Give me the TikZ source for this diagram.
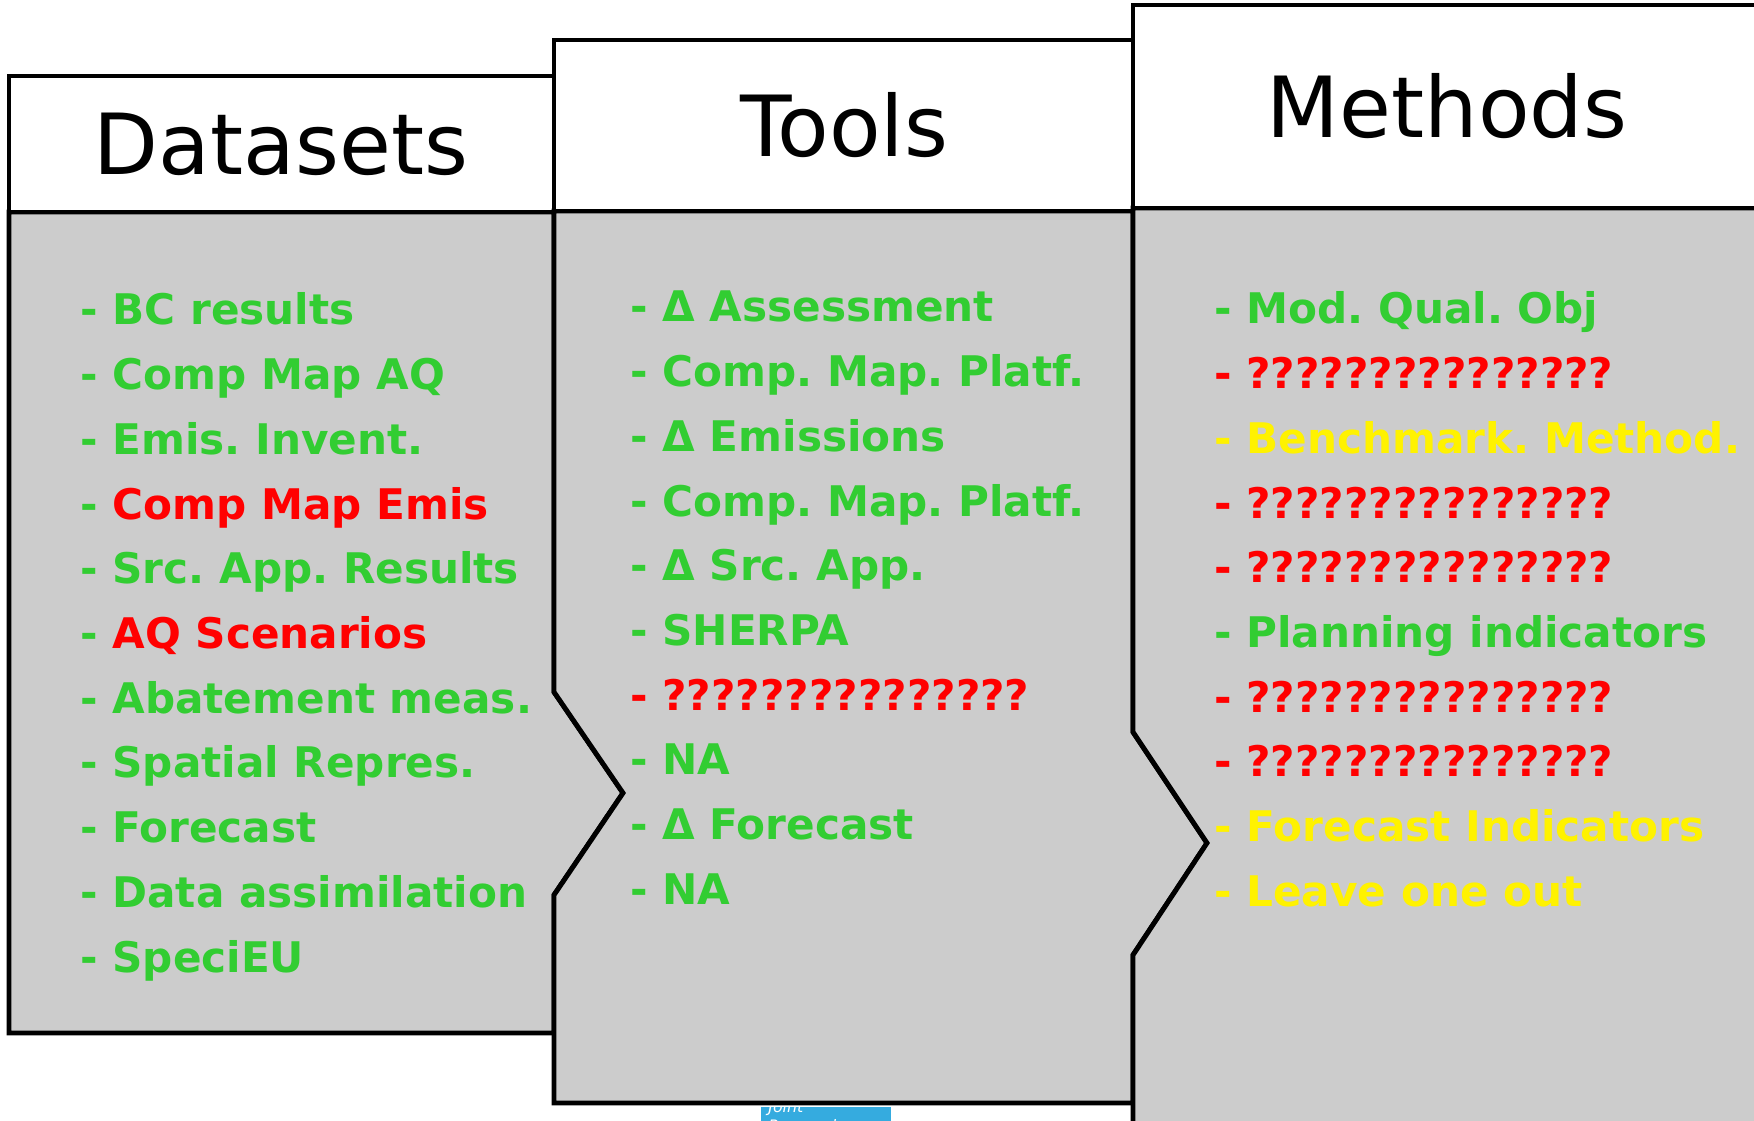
\documentclass[tikz,border=0pt]{standalone}
\usepackage{fontspec}
\setmainfont{DejaVu Sans}
\frenchspacing
\definecolor{okgreen}{RGB}{50,205,50}
\definecolor{panelgray}{RGB}{204,204,204}
\definecolor{logoblue}{RGB}{53,171,223}
\begin{document}
\begin{tikzpicture}[x=0.02cm, y=-0.02cm,
    frame/.style ={draw=black, line width=2.8pt, line join=miter},
    head/.style ={inner sep=0pt, font=\fontsize{48}{57}\selectfont},
    item/.style ={anchor=base west, inner sep=0pt, font=\fontsize{24}{29}\selectfont\bfseries}]
   \clip (0,0) rectangle (1754,1121);
   \useasboundingbox (0,0) rectangle (1754,1121);
   % datasets
   \draw[frame, fill=panelgray] (9,212) -- (554,212) -- (554,692) -- (623,793) -- (554,895)
      -- (554,1033) -- (9,1033) -- cycle;
   \draw[frame, fill=white] (9,76) rectangle (554,212);
   \node[head] (datasets) at (281,144) {Datasets};
   % tools
   \draw[frame, fill=panelgray] (554,211) -- (1133,211) -- (1133,732) -- (1207,843) -- (1133,955)
      -- (1133,1103) -- (554,1103) -- (554,895) -- (623,793) -- (554,692) -- cycle;
   \draw[frame, fill=white] (554,40) rectangle (1133,211);
   \node[head] (tools) at (844,125) {Tools};
   % methods
   \draw[frame, fill=panelgray] (1133,208) -- (1800,208) -- (1800,1200) -- (1133,1200)
      -- (1133,955) -- (1207,843) -- (1133,732) -- cycle;
   \draw[frame, fill=white] (1133,5) rectangle (1800,208);
   \node[head] (methods) at (1447,106) {Methods};
   % lists
   \foreach \c/\txt [count=\i from 0] in {okgreen/BC results, okgreen/Comp Map AQ,
      okgreen/Emis. Invent., red/Comp Map Emis, okgreen/Src. App. Results, red/AQ Scenarios,
      okgreen/Abatement meas., okgreen/Spatial Repres., okgreen/Forecast,
      okgreen/Data assimilation, okgreen/SpeciEU}
      \node[item, okgreen] (ds\i) at (80,325+64.7*\i) {- \textcolor{\c}{\txt}};
   \foreach \c/\txt [count=\i from 0] in {okgreen/Δ Assessment, okgreen/Comp. Map. Platf.,
      okgreen/Δ Emissions, okgreen/Comp. Map. Platf., okgreen/Δ Src. App., okgreen/SHERPA,
      red/???????????????, okgreen/NA, okgreen/Δ Forecast, okgreen/NA}
      \node[item, \c] (tl\i) at (630,322+64.7*\i) {- \txt};
   \foreach \c/\txt [count=\i from 0] in {okgreen/Mod. Qual. Obj, red/???????????????,
      yellow/Benchmark. Method., red/???????????????, red/???????????????,
      okgreen/Planning indicators, red/???????????????, red/???????????????,
      yellow/Forecast Indicators, yellow/Leave one out}
      \node[item, \c] (mt\i) at (1214,324+64.7*\i) {- \txt};
   % logo
   \begin{scope}
     \clip (761,1107) rectangle (891,1121);
     \fill[logoblue] (761,1107) rectangle (891,1121);
     \node[anchor=north west, inner sep=0pt, white, align=left,
        font=\fontsize{9}{11}\selectfont\itshape] (logo) at (768,1100) {Joint\\Research};
   \end{scope}
 \end{tikzpicture}
\end{document}
